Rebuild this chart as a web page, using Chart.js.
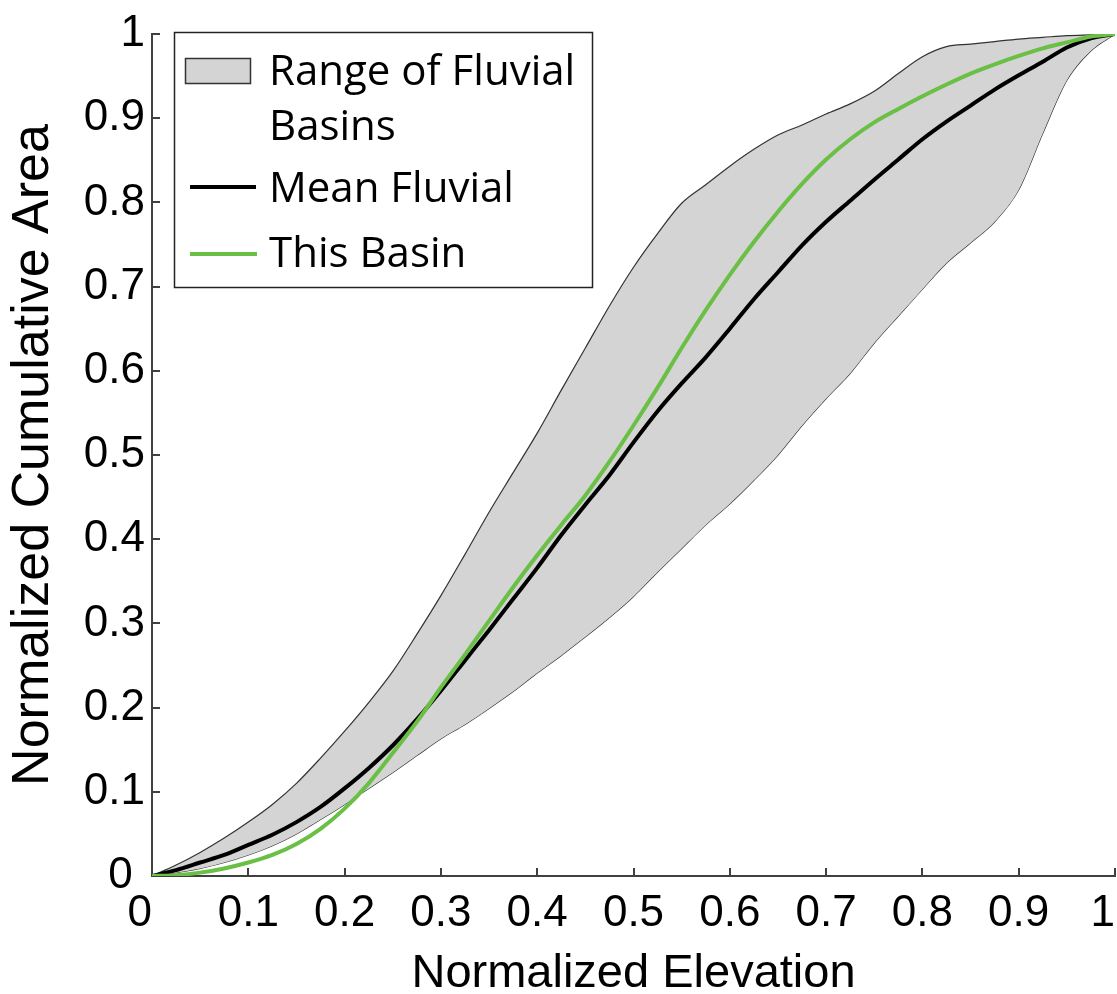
<!DOCTYPE html>
<html>
<head>
<meta charset="utf-8">
<script src="https://cdn.jsdelivr.net/npm/chart.js@4.4.1/dist/chart.umd.min.js"></script>
<style>
  html, body { margin: 0; padding: 0; background: #fff; }
  #wrap { width: 1117px; height: 994px; }
</style>
</head>
<body>
<div id="wrap"><canvas id="c" width="1117" height="994"></canvas></div>
<script>
// ---- data ----
const elevation = [0, 0.025, 0.05, 0.075, 0.1, 0.125, 0.15, 0.175, 0.2, 0.225, 0.25, 0.275, 0.3, 0.325, 0.35, 0.375, 0.4, 0.425, 0.45, 0.475, 0.5, 0.525, 0.55, 0.575, 0.6, 0.625, 0.65, 0.675, 0.7, 0.725, 0.75, 0.775, 0.8, 0.825, 0.85, 0.875, 0.9, 0.925, 0.95, 0.975, 1];
const rangeUpper = [0, 0.013, 0.028, 0.045, 0.064, 0.085, 0.11, 0.14, 0.172, 0.206, 0.243, 0.287, 0.333, 0.382, 0.432, 0.479, 0.526, 0.577, 0.627, 0.677, 0.723, 0.763, 0.799, 0.821, 0.843, 0.863, 0.88, 0.892, 0.905, 0.917, 0.932, 0.953, 0.973, 0.985, 0.988, 0.991, 0.994, 0.996, 0.998, 0.999, 1];
const rangeLower = [0, 0.004, 0.009, 0.016, 0.025, 0.036, 0.05, 0.067, 0.085, 0.104, 0.123, 0.143, 0.163, 0.18, 0.199, 0.219, 0.241, 0.262, 0.284, 0.307, 0.332, 0.361, 0.389, 0.417, 0.442, 0.47, 0.5, 0.535, 0.567, 0.597, 0.633, 0.665, 0.697, 0.728, 0.752, 0.777, 0.815, 0.882, 0.945, 0.98, 1];
const meanFluvial = [0, 0.007, 0.016, 0.025, 0.037, 0.049, 0.064, 0.082, 0.104, 0.128, 0.155, 0.186, 0.22, 0.256, 0.292, 0.329, 0.366, 0.405, 0.441, 0.476, 0.515, 0.552, 0.585, 0.616, 0.65, 0.685, 0.717, 0.749, 0.777, 0.802, 0.827, 0.851, 0.875, 0.896, 0.915, 0.934, 0.951, 0.967, 0.984, 0.995, 1];
const thisBasin = [0, 0.001, 0.004, 0.009, 0.016, 0.025, 0.038, 0.056, 0.08, 0.11, 0.146, 0.183, 0.224, 0.263, 0.303, 0.343, 0.381, 0.417, 0.452, 0.492, 0.535, 0.58, 0.627, 0.672, 0.714, 0.753, 0.789, 0.822, 0.851, 0.875, 0.895, 0.911, 0.926, 0.94, 0.953, 0.964, 0.974, 0.983, 0.99, 0.997, 1];
const xTickLabels = ['0', '0.1', '0.2', '0.3', '0.4', '0.5', '0.6', '0.7', '0.8', '0.9', '1'];
const yTickLabels = ['0', '0.1', '0.2', '0.3', '0.4', '0.5', '0.6', '0.7', '0.8', '0.9', '1'];
const legendLabels = [['Range of Fluvial', 'Basins'], ['Mean Fluvial'], ['This Basin']];
const xTitle = 'Normalized Elevation';
const yTitle = 'Normalized Cumulative Area';

const pts = arr => elevation.map((x, i) => ({ x: x, y: arr[i] }));

const AXIS = '#404040';

const legendPlugin = {
  id: 'boxLegend',
  afterDraw(chart) {
    const ctx = chart.ctx;
    const ds = chart.data.datasets;
    ctx.save();
    // frame
    ctx.fillStyle = '#ffffff';
    ctx.fillRect(174, 32, 419, 256);
    ctx.lineWidth = 1.5;
    ctx.strokeStyle = '#222';
    ctx.strokeRect(174.5, 32.5, 418, 255);
    // swatch for range
    ctx.fillStyle = ds[0].backgroundColor;
    ctx.fillRect(185, 58, 66, 26);
    ctx.strokeStyle = '#333';
    ctx.lineWidth = 1.5;
    ctx.strokeRect(185.5, 58.5, 65, 25);
    // line samples
    ctx.lineCap = 'butt';
    ctx.strokeStyle = ds[2].borderColor;
    ctx.lineWidth = ds[2].borderWidth;
    ctx.beginPath(); ctx.moveTo(190, 187); ctx.lineTo(256, 187); ctx.stroke();
    ctx.strokeStyle = ds[3].borderColor;
    ctx.lineWidth = ds[3].borderWidth;
    ctx.beginPath(); ctx.moveTo(190, 254); ctx.lineTo(257, 254); ctx.stroke();
    // text
    ctx.fillStyle = '#000';
    ctx.font = '42px "Open Sans"';
    ctx.textAlign = 'left';
    ctx.textBaseline = 'alphabetic';
    ctx.fillText(legendLabels[0][0], 269, 85);
    ctx.fillText(legendLabels[0][1], 269, 140);
    ctx.fillText(legendLabels[1][0], 269, 202);
    ctx.fillText(legendLabels[2][0], 269, 267);
    ctx.restore();
  }
};

new Chart(document.getElementById('c'), {
  type: 'line',
  data: {
    datasets: [
      {
        label: 'Range upper',
        data: pts(rangeUpper),
        borderColor: '#333333',
        borderWidth: 1.2,
        backgroundColor: '#d4d4d4',
        fill: 1,
        pointRadius: 0,
        cubicInterpolationMode: 'monotone',
        order: 3
      },
      {
        label: 'Range lower',
        data: pts(rangeLower),
        borderColor: '#333333',
        borderWidth: 1.2,
        fill: false,
        pointRadius: 0,
        cubicInterpolationMode: 'monotone',
        order: 3
      },
      {
        label: 'Mean Fluvial',
        data: pts(meanFluvial),
        borderColor: '#000000',
        borderWidth: 4,
        fill: false,
        pointRadius: 0,
        cubicInterpolationMode: 'monotone',
        order: 1
      },
      {
        label: 'This Basin',
        data: pts(thisBasin),
        borderColor: '#6abf45',
        borderWidth: 4,
        fill: false,
        pointRadius: 0,
        cubicInterpolationMode: 'monotone',
        order: 0
      }
    ]
  },
  options: {
    responsive: false,
    animation: false,
    devicePixelRatio: 1,
    layout: { padding: { top: 34, right: 2, left: 0, bottom: 0 } },
    plugins: {
      legend: { display: false },
      tooltip: { enabled: false }
    },
    scales: {
      x: {
        type: 'linear',
        min: 0, max: 1,
        afterFit(s) { s.height = 118; s.paddingLeft = 0; s.paddingRight = 0; },
        border: { display: true, color: AXIS, width: 2 },
        grid: { drawOnChartArea: false, drawTicks: true, tickLength: -8, color: AXIS, tickColor: AXIS, lineWidth: 2, tickWidth: 2 },
        ticks: {
          stepSize: 0.1,
          autoSkip: false,
          maxRotation: 0,
          padding: 19,
          color: '#000',
          font: { family: '"Liberation Sans", Arial, sans-serif', size: 44 },
          callback: (v, i, arr) => {
            const t = xTickLabels[i];
            return (i === 0 || i === arr.length - 1) ? t + '  ' : t;
          }
        },
        title: {
          display: true,
          text: xTitle,
          color: '#000',
          font: { family: '"Liberation Sans", Arial, sans-serif', size: 47, lineHeight: 1 },
          padding: { top: 0, bottom: -4 }
        }
      },
      y: {
        type: 'linear',
        min: 0, max: 1,
        afterFit(s) { s.width = 152; s.paddingTop = 0; s.paddingBottom = 0; },
        border: { display: true, color: AXIS, width: 2 },
        grid: { drawOnChartArea: false, drawTicks: true, tickLength: -8, color: AXIS, tickColor: AXIS, lineWidth: 2, tickWidth: 2 },
        ticks: {
          stepSize: 0.1,
          autoSkip: false,
          padding: 15,
          color: '#000',
          font: { family: '"Liberation Sans", Arial, sans-serif', size: 44 },
          callback: (v, i) => (i === 0 ? yTickLabels[i] + ' ' : yTickLabels[i])
        },
        title: {
          display: true,
          text: yTitle,
          color: '#000',
          font: { family: '"Liberation Sans", Arial, sans-serif', size: 52, lineHeight: 1 },
          padding: { top: 8, bottom: 0 }
        }
      }
    }
  },
  plugins: [legendPlugin]
});
</script>
</body>
</html>
